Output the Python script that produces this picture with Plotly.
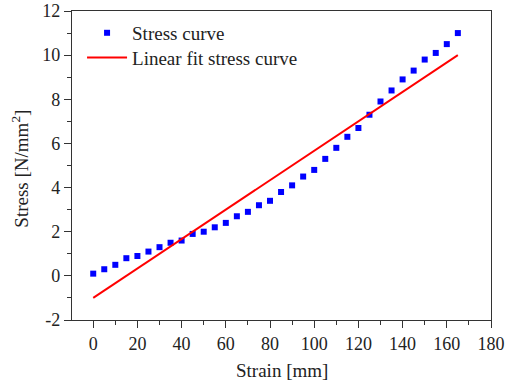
import numpy as np
import plotly.graph_objects as go

# Measured stress-strain points
strain = list(range(0, 170, 5))
stress = [0.1, 0.3, 0.5, 0.8, 0.9, 1.1, 1.3, 1.5, 1.6, 1.9, 2.0,
          2.2, 2.4, 2.7, 2.9, 3.2, 3.4, 3.8, 4.1, 4.5, 4.8,
          5.3, 5.8, 6.3, 6.7, 7.3, 7.9, 8.4, 8.9, 9.3, 9.8,
          10.1, 10.5, 11.0]

# Linear fit over the measured range
fit_x = [0, 165]
fit_y = [-1.0, 10.0]

x_ticks = list(range(0, 181, 20))
y_ticks = list(range(-2, 13, 2))
y_ticktext = [str(v) for v in y_ticks]

font_family = "Liberation Serif"
text_color = "#222222"
axis_color = "#333333"

fig = go.Figure()
fig.add_trace(go.Scatter(
    x=strain, y=stress, mode="markers", name="Stress curve",
    marker=dict(symbol="square", size=6, color="#0000FF"),
    legend="legend", showlegend=True,
))
fig.add_trace(go.Scatter(
    x=fit_x, y=fit_y, mode="lines", name="Linear fit stress curve",
    line=dict(color="#FF0000", width=2),
    legend="legend2", showlegend=True,
))

axis_common = dict(
    showgrid=False, zeroline=False, showline=True, linecolor=axis_color,
    linewidth=1.2, mirror=True, ticks="outside", ticklen=7, tickcolor=axis_color,
    tickfont=dict(family=font_family, size=18, color=text_color),
    automargin=False,
)

fig.update_xaxes(
    range=[-9.6, 180], tickvals=x_ticks,
    minor=dict(dtick=10, tick0=0, ticks="outside", ticklen=4, tickcolor=axis_color),
    **axis_common,
)
fig.update_yaxes(
    range=[-2, 12], tickvals=y_ticks, ticktext=y_ticktext,
    minor=dict(dtick=1, tick0=0, ticks="outside", ticklen=4, tickcolor=axis_color),
    **axis_common,
)

title_font = dict(family=font_family, size=19, color=text_color)
fig.add_annotation(
    text="Strain [mm]", xref="paper", yref="paper", x=0.5, y=-0.165,
    xanchor="center", yanchor="middle", showarrow=False, font=title_font,
)
fig.add_annotation(
    text="Stress [N/mm<sup>2</sup>]", xref="paper", yref="paper", x=-0.124, y=0.49,
    xanchor="center", yanchor="middle", showarrow=False, textangle=-90, font=title_font,
)

legend_common = dict(
    xanchor="left", yanchor="middle",
    font=dict(family=font_family, size=19, color=text_color),
    bgcolor="rgba(0,0,0,0)", itemwidth=40, visible=True,
)

fig.update_layout(
    width=516, height=383,
    margin=dict(l=72, r=25, t=11, b=63),
    paper_bgcolor="white", plot_bgcolor="white",
    showlegend=True,
    legend=dict(x=0.024, y=0.929, **legend_common),
    legend2=dict(x=0.024, y=0.849, **legend_common),
)

fig.write_html("out.html")
